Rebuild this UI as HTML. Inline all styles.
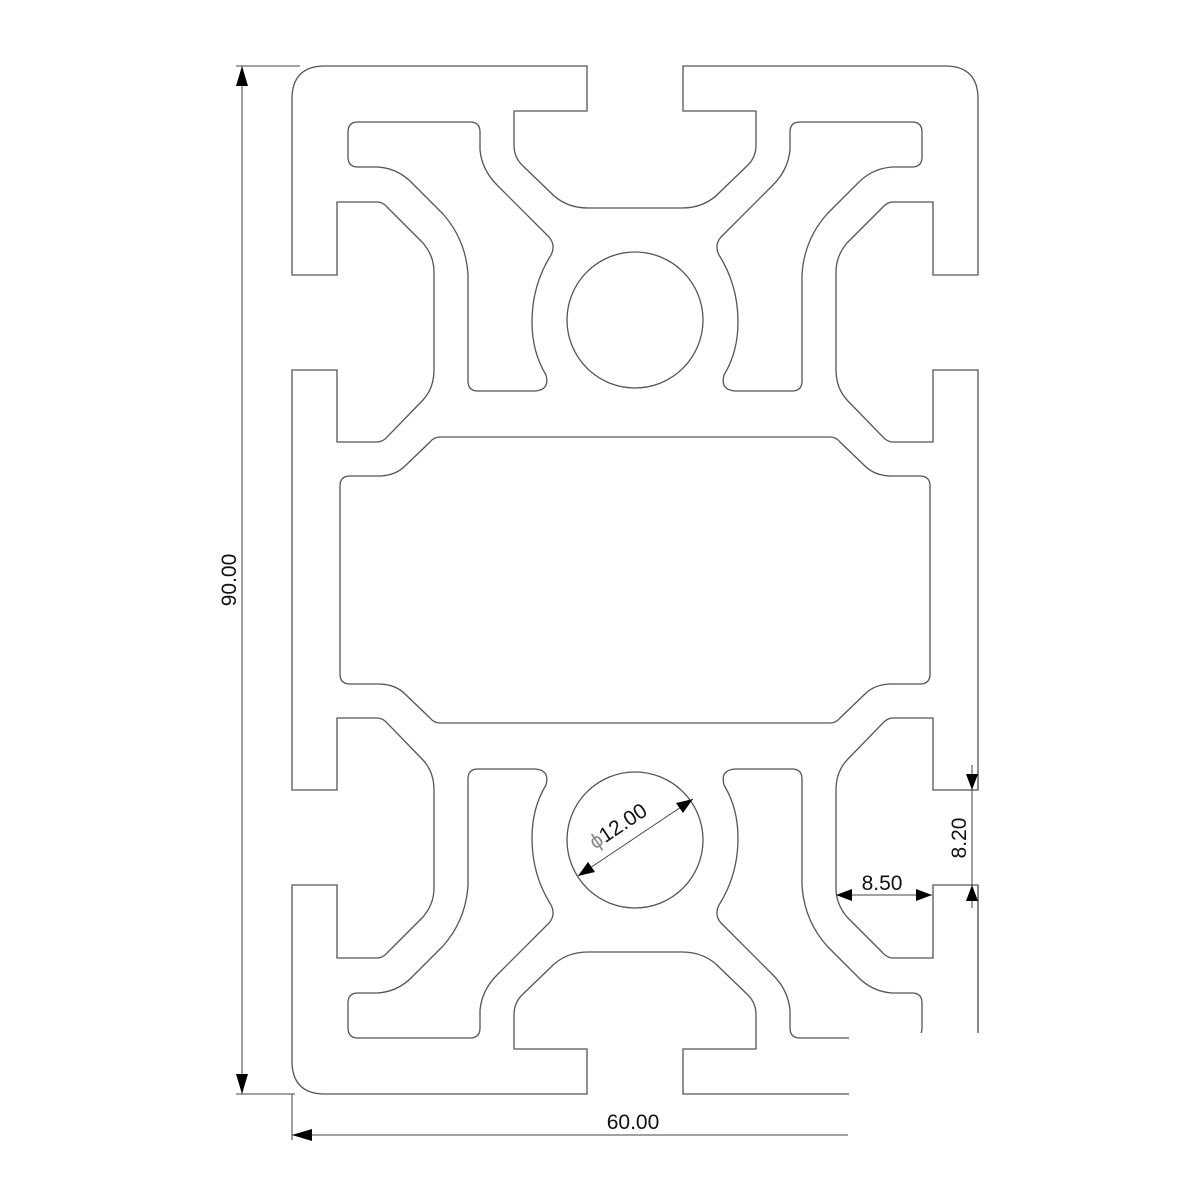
<!DOCTYPE html>
<html><head><meta charset="utf-8"><style>html,body{margin:0;padding:0;background:#fff}svg{display:block}</style></head>
<body>
<svg width="1200" height="1200" viewBox="0 0 1200 1200" xmlns="http://www.w3.org/2000/svg">
<defs>
<g id="q" fill="none" stroke="#555" stroke-width="1.3">
<path d="M635,208 L588,208 Q565,208 550,192 L522,165 Q514,157 514,145 L514,111 L587,111 L587,66 L325,66 Q292,66 292,99 L292,275 L337,275 L337,202 L377,202 Q383,202 388,208 L423,243 Q434,256 434,272 L434,370 Q434,388 423,400 L388,436 Q383,442 377,442 L337,442 L337,370 L292,370 L292,580"/>
<path d="M358,122 L470,122 Q480,122 480,132 L480,150 Q482,170 497,185 L549,237 Q556,245 551,255 Q532,285 532,322 Q532,352 546,375 Q550,390 535,391 L478,391 Q468,391 468,381 L468,275 Q466,240 443,214 L413,184 Q398,168 377,167 L358,167 Q348,167 348,157 L348,132 Q348,122 358,122 Z"/>
<path d="M635,437 L440,437 Q434,437 430,442 L405,466 Q395,476 378,476 L350,476 Q340,476 340,486 L340,580"/>
</g>
</defs>
<use href="#q"/>
<use href="#q" transform="matrix(-1,0,0,1,1270,0)"/>
<use href="#q" transform="matrix(1,0,0,-1,0,1160)"/>
<use href="#q" transform="matrix(-1,0,0,-1,1270,1160)"/>
<g fill="none" stroke="#555" stroke-width="1.3">
<circle cx="635" cy="320" r="68"/>
<circle cx="635" cy="840" r="68"/>
</g>
<rect x="849" y="1033" width="160" height="130" fill="#fff"/>
<g stroke="#444" stroke-width="1" fill="none">
<line x1="236" y1="66" x2="300" y2="66"/>
<line x1="236" y1="1094" x2="295" y2="1094"/>
<line x1="242" y1="66" x2="242" y2="1094"/>
<line x1="292" y1="1094" x2="292" y2="1140"/>
<line x1="292" y1="1135" x2="848" y2="1135"/>
<line x1="836" y1="895" x2="932" y2="895"/>
<line x1="972" y1="765" x2="972" y2="908"/>
<line x1="978" y1="885" x2="978" y2="1032"/>
<line x1="978" y1="770" x2="978" y2="790"/>
<line x1="578" y1="876" x2="693" y2="799"/>
</g>
<g fill="#000">
<polygon points="242,66 236,86 248,86"/>
<polygon points="242,1094 236,1074 248,1074"/>
<polygon points="292,1135 312,1129 312,1141"/>
<polygon points="836,895 852,889 852,901"/>
<polygon points="932,895 916,889 916,901"/>
<polygon points="972,790 966,774 978,774"/>
<polygon points="972,885 966,901 978,901"/>
<polygon points="578,876 588,862 595,872"/>
<polygon points="693,799 683,813 676,803"/>
</g>
<g font-family="'Liberation Sans', sans-serif" font-size="21" fill="#111">
<text x="236" y="580" text-anchor="middle" transform="rotate(-90 236 580)" dy="0">90.00</text>
<text x="633" y="1129" text-anchor="middle">60.00</text>
<text x="882" y="890" text-anchor="middle">8.50</text>
<text x="966" y="838" text-anchor="middle" transform="rotate(-90 966 838)">8.20</text>
<text x="622" y="832" text-anchor="middle" transform="rotate(-33.8 622 832)"><tspan fill="#888">ϕ</tspan>12.00</text>
</g>
</svg>
</body></html>
